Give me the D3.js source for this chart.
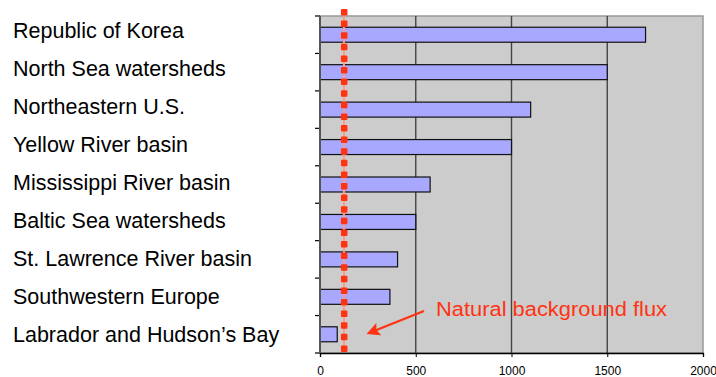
<!DOCTYPE html>
<html>
<head>
<meta charset="utf-8">
<script src="https://cdn.jsdelivr.net/npm/d3@7"></script>
<style>
  body { margin: 0; background: #fff; }
  svg { display: block; }
</style>
</head>
<body>
<div id="chart"></div>
<script>
// regions, top to bottom
var regions = [
  "Republic of Korea",
  "North Sea watersheds",
  "Northeastern U.S.",
  "Yellow River basin",
  "Mississippi River basin",
  "Baltic Sea watersheds",
  "St. Lawrence River basin",
  "Southwestern Europe",
  "Labrador and Hudson\u2019s Bay"
];
var flux = [1700, 1500, 1100, 1000, 575, 500, 405, 365, 90];
var xTicks = [0, 500, 1000, 1500, 2000];
var backgroundFlux = 125;
var annotation = "Natural background flux";

var data = regions.map((r, i) => ({ region: r, value: flux[i] }));

var width = 716, height = 377;
var margin = { top: 16, right: 13, bottom: 24, left: 320 };
var w = width - margin.left - margin.right;
var h = height - margin.top - margin.bottom;
var font = "Liberation Sans, Arial, sans-serif";

var svg = d3.select("#chart").append("svg")
  .attr("width", width)
  .attr("height", height);

var g = svg.append("g")
  .attr("transform", "translate(" + margin.left + "," + margin.top + ")");

var x = d3.scaleLinear().domain([0, 2000]).range([0, w]);
var y = d3.scaleBand().domain(regions).range([0, h]).paddingInner(0.6).paddingOuter(0.3);
var yb = d3.scaleBand().domain(regions).range([0, h]);
// the text column is spaced a little differently from the bars
var yLabel = d3.scalePoint().domain(regions).range([37.5, 342]);

// plot background
g.append("rect")
  .attr("width", w).attr("height", h)
  .attr("fill", "#cccccc")
  .attr("stroke", "#999").attr("stroke-width", 1.5);

// vertical gridlines
g.selectAll(".grid")
  .data(xTicks.slice(1, -1))
  .enter().append("line")
  .attr("x1", d => x(d)).attr("x2", d => x(d))
  .attr("y1", 0).attr("y2", h)
  .attr("stroke", "#444").attr("stroke-width", 1.4);

// bars
g.selectAll(".bar")
  .data(data)
  .enter().append("rect")
  .attr("x", 0)
  .attr("y", d => y(d.region))
  .attr("width", d => x(d.value))
  .attr("height", y.bandwidth())
  .attr("fill", "#a8a8ff")
  .attr("stroke", "#111").attr("stroke-width", 1.2);

// x axis
var xAxis = g.append("g")
  .attr("transform", "translate(0," + h + ")")
  .call(d3.axisBottom(x).tickValues(xTicks).tickFormat(d3.format("d")).tickSize(4).tickPadding(9));
xAxis.select(".domain").attr("stroke", "#000").attr("stroke-width", 1.3);
xAxis.selectAll("text").style("font-family", font).style("font-size", "12px");

// y axis ticks (band boundaries), no labels
var yEdges = regions.map(r => yb(r)).concat([h]);
g.selectAll(".ytick")
  .data(yEdges)
  .enter().append("line")
  .attr("x1", -5).attr("x2", 0)
  .attr("y1", d => d).attr("y2", d => d)
  .attr("stroke", "#000").attr("stroke-width", 1.2);
g.append("line")
  .attr("x1", 0).attr("x2", 0).attr("y1", 0).attr("y2", h)
  .attr("stroke", "#555").attr("stroke-width", 2);

// region labels
svg.selectAll(".label")
  .data(regions)
  .enter().append("text")
  .attr("x", 13)
  .attr("y", d => yLabel(d))
  .style("font-family", font)
  .style("font-size", "21.5px")
  .attr("fill", "#000")
  .text(d => d);

// natural background flux dotted line
var red = "#ff3311";
var bx = x(backgroundFlux);
var dots = d3.range(-7, h - 4, 11.6);
g.append("line")
  .attr("x1", bx).attr("x2", bx).attr("y1", -7).attr("y2", h - 6)
  .attr("stroke", "#ff9a88").attr("stroke-width", 2);
g.selectAll(".dot")
  .data(dots)
  .enter().append("rect")
  .attr("x", bx - 3).attr("y", d => d)
  .attr("width", 6.5).attr("height", 6.5)
  .attr("rx", 1)
  .attr("fill", red);

// annotation
svg.append("text")
  .attr("x", 436).attr("y", 316)
  .style("font-family", font)
  .style("font-size", "19.5px")
  .attr("textLength", 231)
  .attr("lengthAdjust", "spacingAndGlyphs")
  .attr("fill", red)
  .text(annotation);

svg.append("defs").append("marker")
  .attr("id", "arrow")
  .attr("viewBox", "0 0 10 10")
  .attr("refX", 8).attr("refY", 5)
  .attr("markerWidth", 6).attr("markerHeight", 6)
  .attr("orient", "auto")
  .append("path")
  .attr("d", "M0,0 L10,5 L0,10 L2,5 Z")
  .attr("fill", red);

svg.append("line")
  .attr("x1", 424).attr("y1", 311)
  .attr("x2", 369).attr("y2", 333)
  .attr("stroke", red).attr("stroke-width", 2.2)
  .attr("marker-end", "url(#arrow)");
</script>
</body>
</html>
